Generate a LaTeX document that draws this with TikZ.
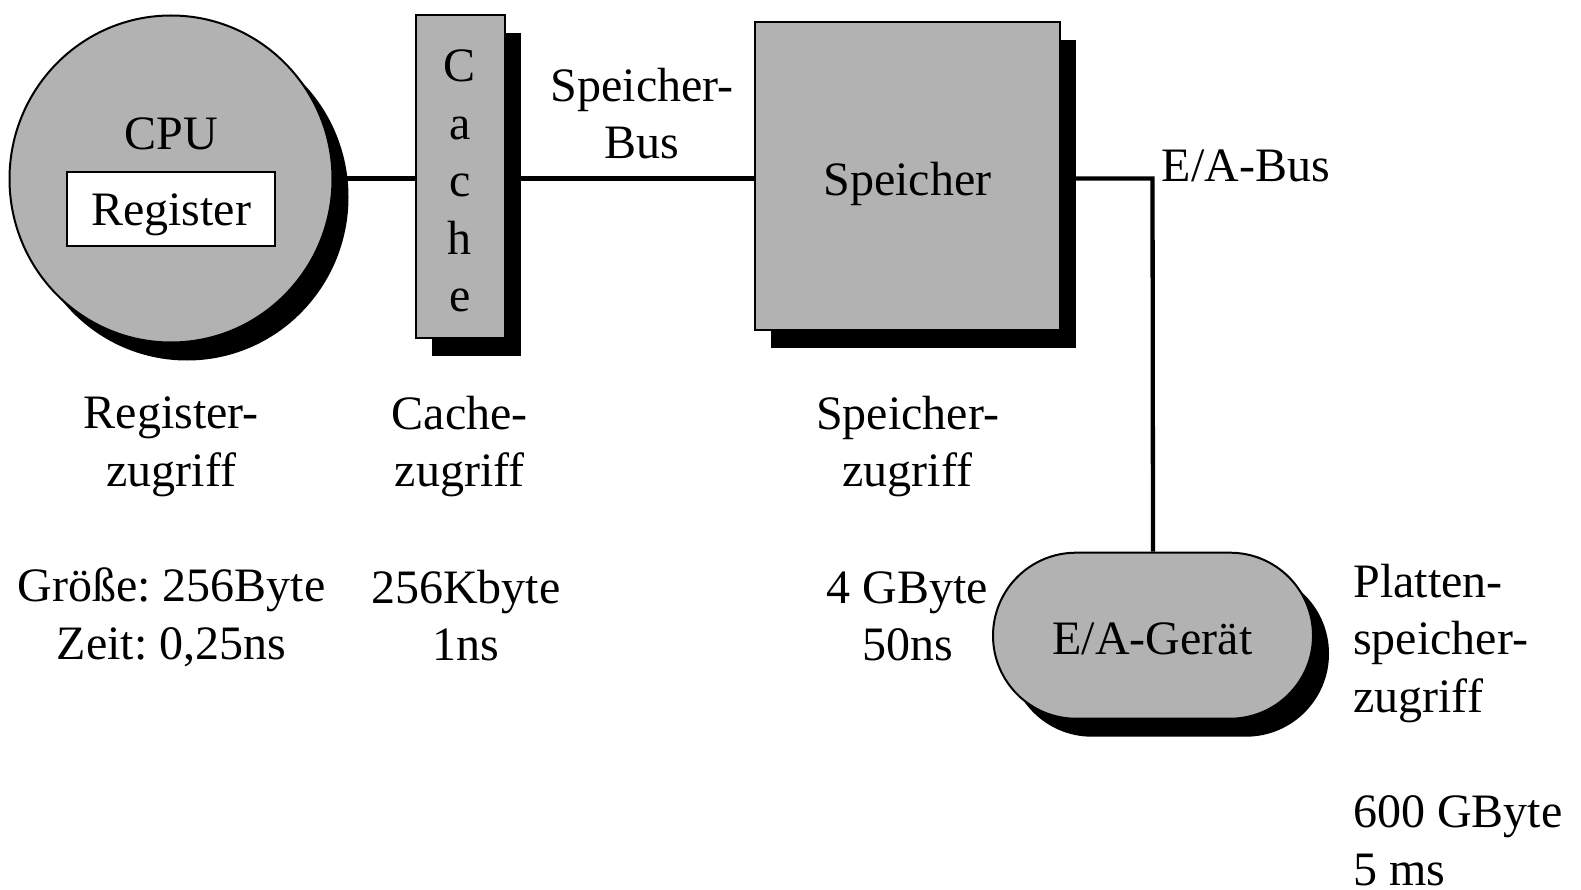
\documentclass[tikz,border=0pt]{standalone}
\usepackage{fontspec}
\setmainfont{Liberation Serif}
\usetikzlibrary{shadows,shapes.misc,shapes.geometric}
\definecolor{boxgray}{RGB}{178,178,178}
\tikzset{
  unit/.style={draw=black, line width=2pt, fill=boxgray, inner sep=0pt,
    drop shadow={opacity=1, fill=black, shadow xshift=16pt, shadow yshift=-18pt}},
  bus/.style={line width=4.3pt},
  lbl/.style={inner sep=0pt, align=center, font=\fontsize{48}{57.5}\selectfont},
  lbll/.style={inner sep=0pt, align=left, anchor=west, font=\fontsize{48}{57.5}\selectfont},
}
\frenchspacing
\begin{document}
\frenchspacing
\begin{tikzpicture}[x=1pt,y=-1pt]
\useasboundingbox (0,0) rectangle (1581,890);
% CPU
\node[unit, ellipse, minimum width=323pt, minimum height=327pt] (cpu) at (171,179) {};
\node[lbl] (cputxt) at (171,134) {CPU};
\node[draw=black, line width=2pt, fill=white, minimum width=208pt, minimum height=74pt, inner sep=0pt] (reg) at (171,209) {};
\node[lbl] (regtxt) at (171,215) {Register};
% Cache
\node[unit, rectangle, minimum width=89pt, minimum height=323pt] (cache) at (460.8,176.5) {};
\node[lbl] (cachetxt) at (459.8,181) {C\\a\\c\\h\\e};
% Speicher
\node[unit, rectangle, minimum width=304.5pt, minimum height=307.5pt] (mem) at (907.5,176) {};
\node[lbl] (memtxt) at (907.5,183.5) {Speicher};
% E/A-Geraet
\node[unit, rounded rectangle, minimum width=320pt, minimum height=166pt] (io) at (1153,635.7) {};
\node[lbl] (iotxt) at (1152.5,639) {E/A-Gerät};
% buses
\coordinate (bend) at (1152.5,178.5);
\draw[bus] (cpu.east |- bend) -- (cache.west |- bend);
\draw[bus] (cache.east |- bend) -- (mem.west |- bend);
\draw[bus] (mem.east |- bend) -- (bend) -- (io.north);
% bus labels
\node[lbl] (membus) at (642.3,113.5) {Speicher-\\Bus};
\node[lbll] (iobus) at (1161.6,165.4) {E/A-Bus};
% access labels
\node[lbl] (l1) at (171.4,446.6) {Register-\\zugriff};
\node[lbl] (l2) at (459.8,446.6) {Cache-\\zugriff};
\node[lbl] (l3) at (907.5,446.6) {Speicher-\\zugriff};
\node[lbl] (s1) at (171.4,617.1) {Größe: 256Byte\\Zeit: 0,25ns};
\node[lbl] (s2) at (465.8,615.6) {256Kbyte\\1ns};
\node[lbl] (s3) at (907.5,616.1) {4 GByte\\50ns};
\node[lbll] (l4) at (1353.1,643.3) {Platten-\\speicher-\\zugriff};
\node[lbll] (s4) at (1353.1,841) {600 GByte\\5 ms};
\end{tikzpicture}
\end{document}
